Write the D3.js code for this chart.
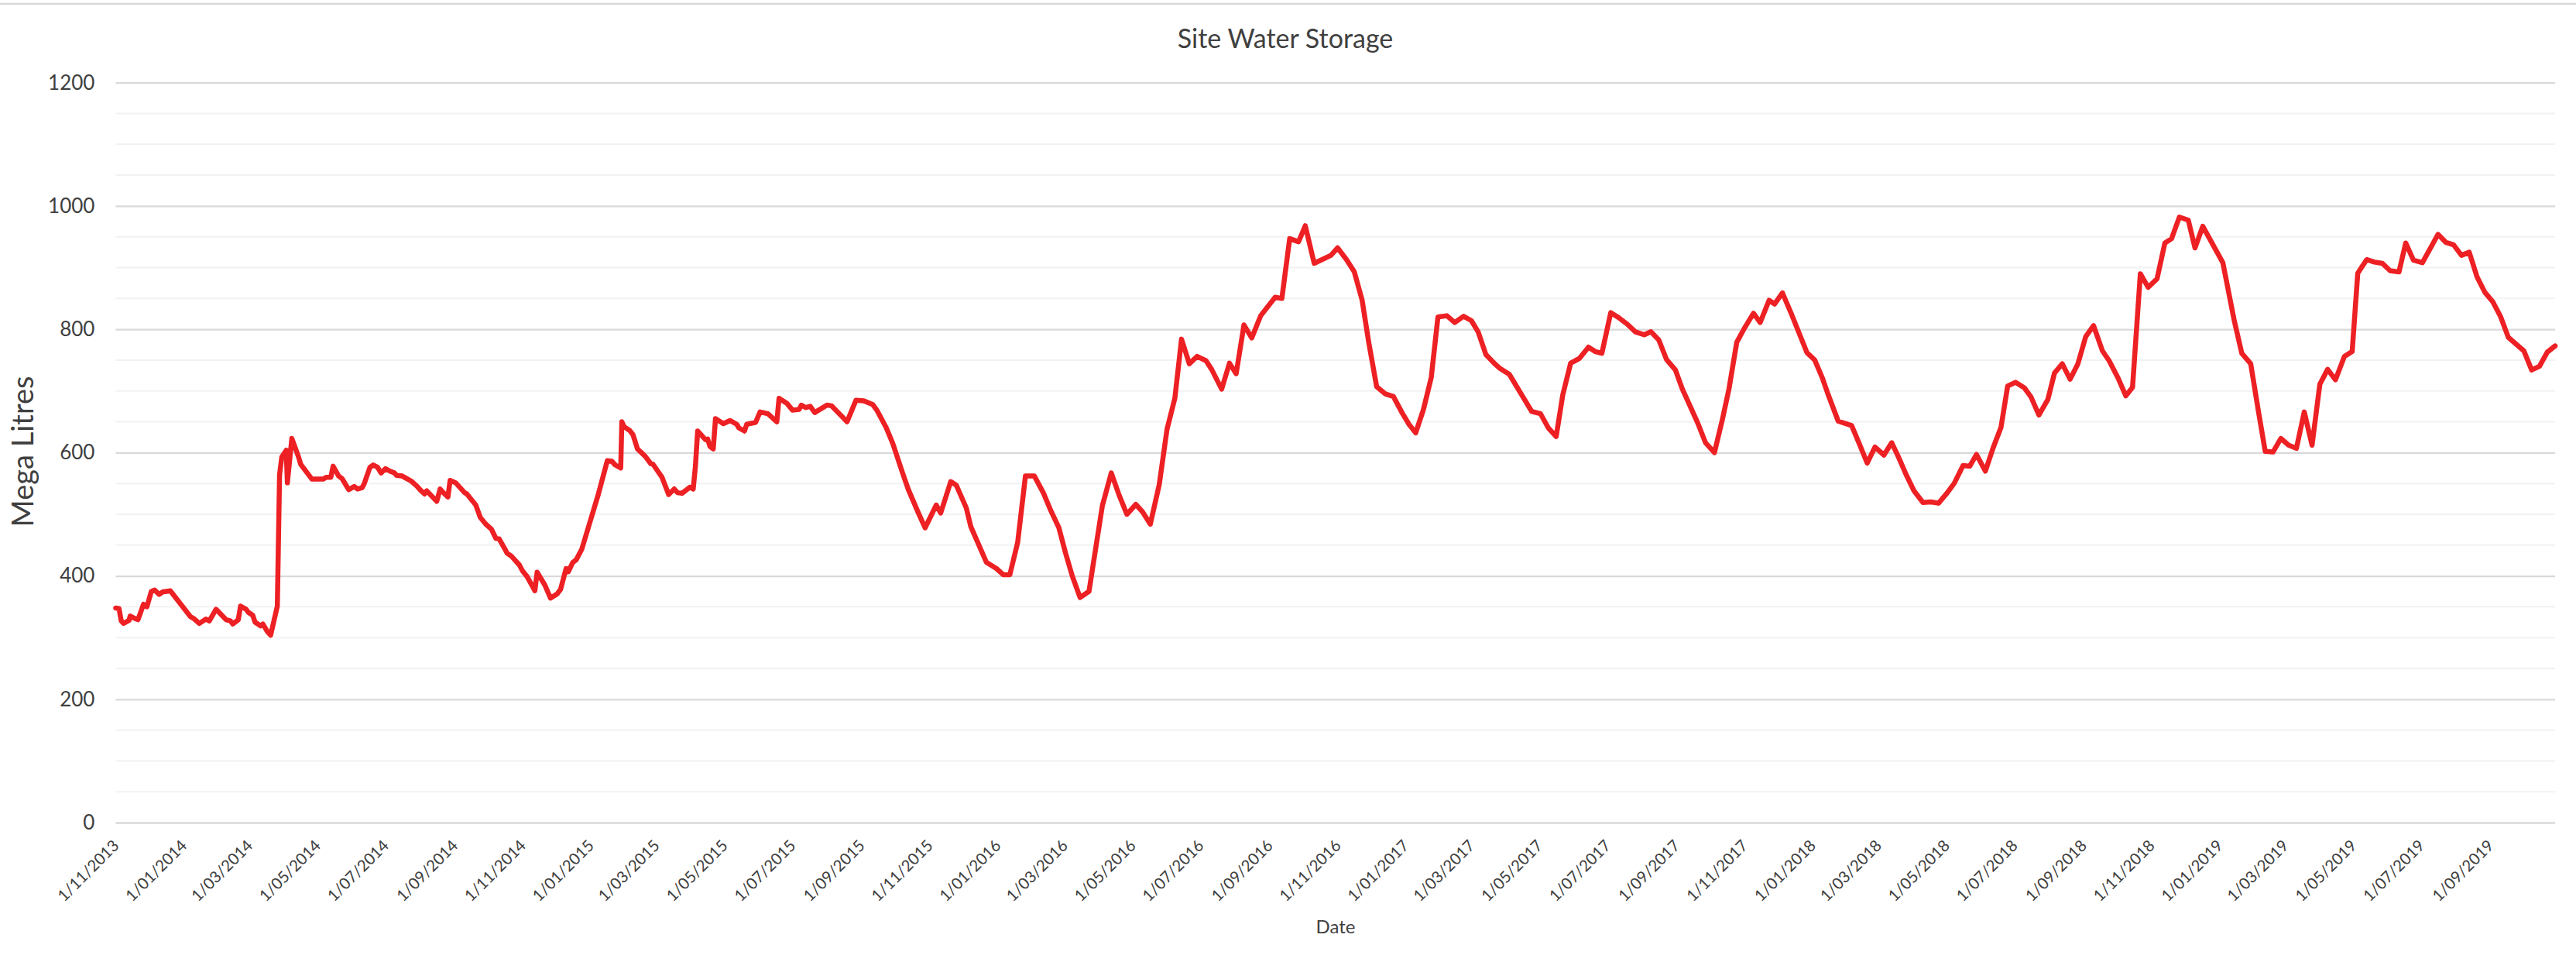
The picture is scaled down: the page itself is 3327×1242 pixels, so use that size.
<!DOCTYPE html>
<html>
<head>
<meta charset="utf-8">
<script src="https://cdn.jsdelivr.net/npm/d3@7"></script>
<style>
  body { margin: 0; background: #fff; }
  text { font-family: Lato, "Open Sans", sans-serif; fill: #404040; }
</style>
</head>
<body>
<script>
// readings: days since 1/11/2013 and storage in ML
const startDate = new Date(2013, 10, 1);
const dayNo = [0,3,5,7,12,13,16,20,25,28,32,35,39,42,49,67,70,75,81,84,90,99,103,105,110,112,117,119,123,125,130,132,136,139,145,147,149,153,154,158,164,166,176,186,189,193,195,200,203,209,214,217,221,223,228,231,235,238,242,246,250,252,257,261,265,270,274,277,279,288,291,295,298,300,305,313,315,323,327,332,337,341,344,349,351,355,362,365,369,376,378,385,390,396,399,404,406,410,413,418,430,433,
  441,445,448,453,454,456,461,464,468,471,475,480,482,490,496,501,504,508,515,518,520,522,529,531,533,536,538,545,551,557,559,564,566,574,578,585,593,595,602,607,613,615,619,623,627,638,642,656,664,671,679,683,691,697,706,711,720,726,736,740,749,754,763,767,781,790,796,802,809,816,824,832,838,846,852,858,865,873,
  885,893,900,907,915,921,928,936,943,950,956,963,970,978,983,992,999,1005,1012,1019,1027,1033,1040,1046,1053,1061,1067,1075,1090,1096,1104,1111,1118,1124,1131,1139,1146,1154,1160,1166,1173,1180,1186,1194,1201,1209,1216,1222,1229,1237,1242,1250,1262,1270,1278,1285,1292,1298,1305,1313,1321,
  1327,1333,1341,1348,1356,1363,1371,1377,1384,1391,1399,1405,1419,1426,1434,1441,1447,1454,1460,1469,1475,1483,1488,1495,1503,1517,1524,1531,1536,1545,1557,1564,1571,1578,1586,1593,1599,1606,1613,1621,1628,1635,1642,1649,1657,1663,1669,1677,1684,1691,1697,1704,1712,1718,1725,1733,1739,1746,1753,1760,1767,
  1774,1782,1788,1796,1803,1809,1816,1823,1831,1838,1844,1851,1859,1865,1872,1890,1900,1907,1915,1922,1928,1935,1942,1949,1956,1963,1970,1977,1984,1991,1999,2006,2011,2019,2026,2033,2040,2048,2054,2061,2069,2083,2090,2097,2104,2111,2118,2125,2132,2139,2146,2153,2160,2167,2174,2181,2188];
const storage = [348,347,327,323,328,335,332,329,354,350,375,377,370,374,376,334,331,323,330,327,346,329,327,322,329,351,346,341,336,325,319,322,310,304,351,564,593,604,551,623,593,581,557,557,560,560,578,562,558,540,545,541,543,550,576,580,576,567,574,570,567,563,562,558,554,546,538,533,538,521,541,533,528,555,551,535,533,515,495,484,476,461,460,444,437,432,418,408,399,376,406,385,364,371,378,412,407,422,426,443,515,533,
  587,586,580,575,650,642,636,629,606,601,594,582,581,560,532,541,535,534,544,541,578,635,621,622,610,606,655,647,652,646,640,635,646,649,666,663,650,688,680,669,670,677,673,675,665,677,676,650,685,684,678,668,641,615,566,540,502,478,515,502,553,547,510,480,422,412,402,402,454,562,562,535,509,478,437,400,365,375,
  514,567,531,500,516,504,484,548,638,688,784,744,756,749,735,703,745,728,807,786,822,836,852,850,947,942,968,907,920,932,913,893,847,778,707,695,691,664,646,632,670,722,820,822,811,821,814,796,759,744,736,727,691,667,663,640,626,694,745,753,771,
  764,761,827,819,808,796,791,796,783,751,734,704,648,616,600,653,703,779,799,826,811,847,841,859,825,762,750,720,694,651,644,614,583,609,596,616,593,564,538,519,520,518,533,550,579,578,597,570,608,641,708,714,705,690,661,686,729,744,719,744,788,
  806,765,749,721,692,706,890,868,882,940,947,982,977,932,967,908,816,761,744,666,602,601,623,612,607,666,612,711,735,718,756,764,891,913,909,907,895,893,940,912,908,954,941,937,920,925,885,860,845,821,787,776,765,734,740,763,773];

const xTickLabels = ["1/11/2013","1/01/2014","1/03/2014","1/05/2014","1/07/2014","1/09/2014",
  "1/11/2014","1/01/2015","1/03/2015","1/05/2015","1/07/2015","1/09/2015",
  "1/11/2015","1/01/2016","1/03/2016","1/05/2016","1/07/2016","1/09/2016",
  "1/11/2016","1/01/2017","1/03/2017","1/05/2017","1/07/2017","1/09/2017",
  "1/11/2017","1/01/2018","1/03/2018","1/05/2018","1/07/2018","1/09/2018",
  "1/11/2018","1/01/2019","1/03/2019","1/05/2019","1/07/2019","1/09/2019"];
const yTicks = [0, 200, 400, 600, 800, 1000, 1200];

const width = 3327, height = 1242;
const plotLeft = 149.4, plotRight = 3300, plotTop = 106.7, plotBottom = 1062;

const data = dayNo.map((d, i) => ({ date: d3.timeDay.offset(startDate, d), v: storage[i] }));
const parseTick = d3.timeParse("%d/%m/%Y");
const tickDates = xTickLabels.map(parseTick);

const x = d3.scaleTime().domain(d3.extent(data, d => d.date)).range([plotLeft, plotRight]);
const y = d3.scaleLinear().domain([0, 1200]).range([plotBottom, plotTop]);

const svg = d3.select('body').append('svg').attr('width', width).attr('height', height);

// chart border (top edge only shows)
svg.append('line').attr('x1', 0).attr('x2', width).attr('y1', 5).attr('y2', 5)
  .attr('stroke', '#d9d9d9').attr('stroke-width', 2.5);

// minor gridlines
svg.append('g')
  .selectAll('line').data(d3.range(50, 1200, 50).filter(v => v % 200 !== 0)).enter()
  .append('line')
  .attr('x1', plotLeft).attr('x2', plotRight)
  .attr('y1', d => y(d)).attr('y2', d => y(d))
  .attr('stroke', '#f2f2f2').attr('stroke-width', 2);

// major gridlines + labels
const yAxis = svg.append('g')
  .attr('transform', `translate(${plotLeft},0)`)
  .call(d3.axisLeft(y).tickValues(yTicks).tickSize(-(plotRight - plotLeft)).tickPadding(27).tickFormat(d3.format('d')));
yAxis.select('.domain').remove();
yAxis.selectAll('line').attr('stroke', '#d9d9d9').attr('stroke-width', 2.3);
yAxis.selectAll('text').attr('font-size', 26).attr('fill', '#404040').style('font-family', 'Lato, sans-serif');

// x axis labels
const xAxis = svg.append('g')
  .attr('transform', `translate(0,${plotBottom})`)
  .call(d3.axisBottom(x).tickValues(tickDates).tickSize(0).tickFormat((d, i) => xTickLabels[i]));
xAxis.select('.domain').remove();
xAxis.selectAll('text')
  .attr('font-size', 20.5)
  .attr('fill', '#404040')
  .style('font-family', 'Lato, sans-serif')
  .attr('text-anchor', 'end')
  .attr('dy', 0)
  .attr('y', 0)
  .attr('transform', 'translate(5,31) rotate(-45)');

// the series
const line = d3.line().x(d => x(d.date)).y(d => y(d.v));
svg.append('path').datum(data)
  .attr('d', line)
  .attr('fill', 'none')
  .attr('stroke', '#ed2024')
  .attr('stroke-width', 6.5)
  .attr('stroke-linejoin', 'round')
  .attr('stroke-linecap', 'round');

// titles
svg.append('text').attr('x', 1660).attr('y', 62).attr('text-anchor', 'middle')
  .attr('font-size', 34).text('Site Water Storage');
svg.append('text').attr('transform', 'translate(43,583) rotate(-90)').attr('text-anchor', 'middle')
  .attr('font-size', 38).text('Mega Litres');
svg.append('text').attr('x', 1725).attr('y', 1205).attr('text-anchor', 'middle')
  .attr('font-size', 24).text('Date');
</script>
</body>
</html>
